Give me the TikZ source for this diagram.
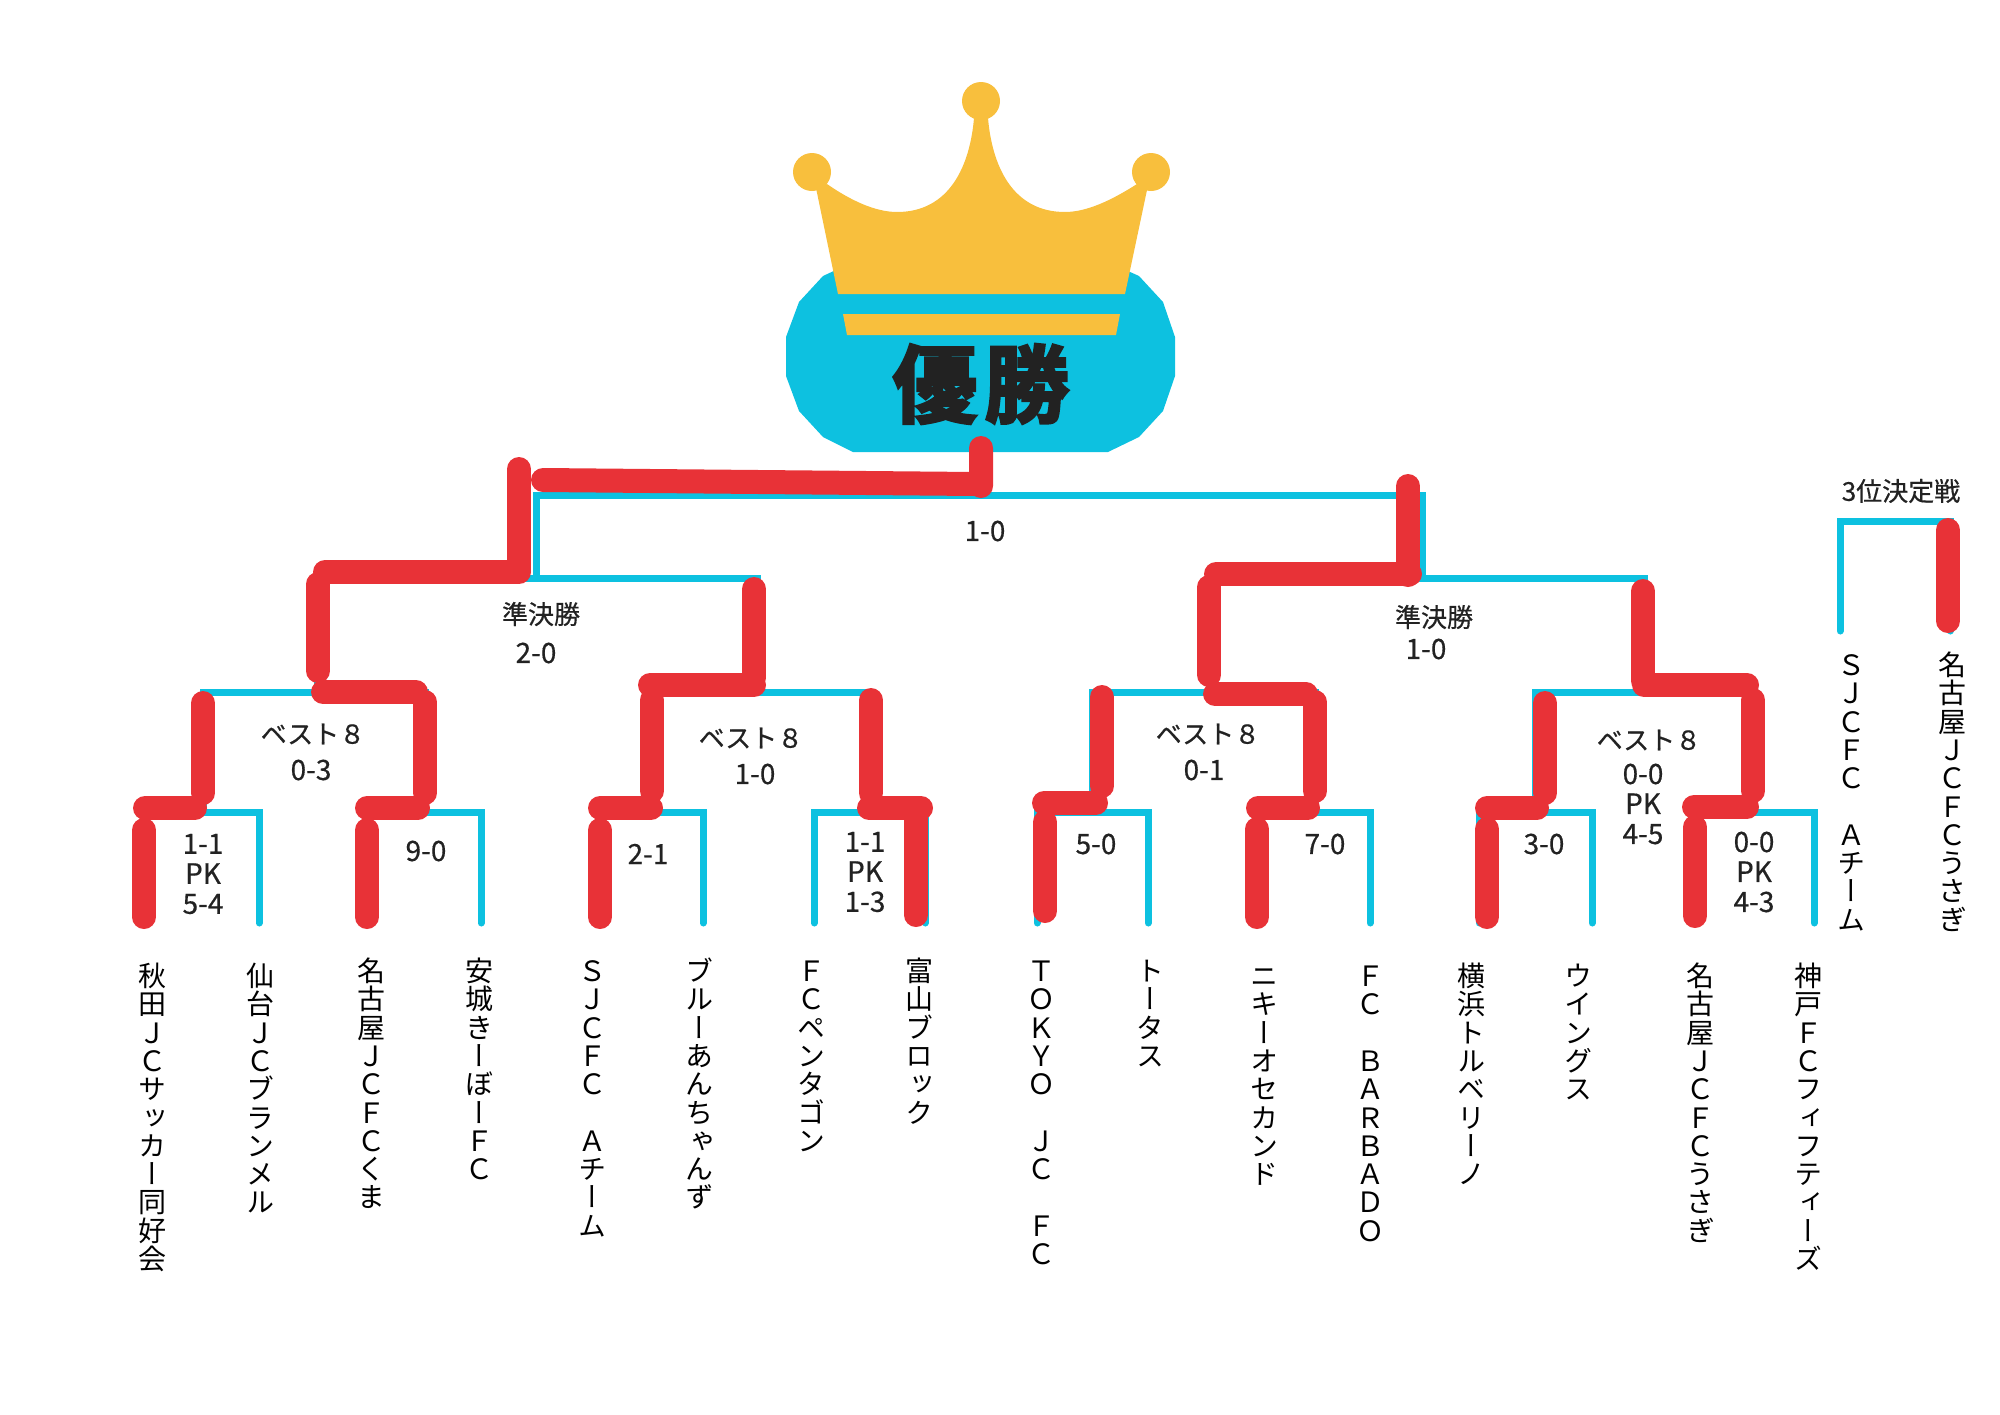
\documentclass[tikz,border=0pt]{standalone}
\usepackage{fontspec}
\setmainfont{Noto Sans CJK JP}
\newfontfamily\tatefont[RawFeature=+vert]{Noto Sans CJK JP}
\newfontfamily\labelfont[FakeBold=0.5]{Noto Sans CJK JP}
\newfontfamily\crownfont[FakeBold=3]{Noto Sans CJK JP Bold}
\definecolor{bracketblue}{HTML}{0DC1E0}
\definecolor{winred}{HTML}{E83237}
\definecolor{crowngold}{HTML}{F8BF3D}
\definecolor{inkdark}{HTML}{222222}
% one character under the other
\def\tateloop#1{\ifx#1\relax\else\hbox to 28.3pt{\hss\vrule height 24.3pt depth 4pt width 0pt #1\hss}\expandafter\tateloop\fi}
\newcommand{\tate}[1]{\vbox{\offinterlineskip\tateloop#1\relax}}
\tikzset{
  bracket/.style={draw=bracketblue,line width=7pt,line cap=round},
  winline/.style={draw=winred,line width=24pt,line cap=round},
  team/.style={anchor=north,inner sep=0pt,text=black,font=\tatefont\fontsize{28}{28}\selectfont},
  score/.style={inner sep=0pt,align=center,text=inkdark,font=\labelfont\fontsize{28}{30}\selectfont},
  stage/.style={inner sep=0pt,text=inkdark,font=\labelfont\fontsize{26}{30}\selectfont}
}
\begin{document}
\begin{tikzpicture}[x=1pt,y=-1pt]
  \useasboundingbox (0,0) rectangle (2000,1414);

  % crown
  \fill[bracketblue] (853,452) -- (823,437) -- (799,411) -- (786,376) -- (786,337) -- (799,302) -- (823,276) -- (853,262)
    -- (1108,262) -- (1139,276) -- (1163,302) -- (1175,337) -- (1175,376) -- (1163,411) -- (1139,437) -- (1108,452) -- cycle;
  \fill[crowngold] (838,294) -- (816,188) -- (827,184) .. controls (850,200) and (875,212) .. (897,212)
    .. controls (950,212) and (970,165) .. (974,118) -- (988,118) .. controls (992,165) and (1012,212) .. (1065,212)
    .. controls (1087,212) and (1112,200) .. (1137,184) -- (1147,190) -- (1125,294) -- cycle;
  \fill[crowngold] (981,101) circle[radius=19] (812,172) circle[radius=19] (1151,172) circle[radius=19];
  \fill[crowngold] (843,314) -- (1120,314) -- (1116,335) -- (847,335) -- cycle;
  \node[inner sep=0pt,text=inkdark,font=\crownfont\fontsize{85}{90}\selectfont] (champion) at (981,384) {優\kern7pt 勝};

  % leaves of the bracket
  \foreach \name/\xpos in {l1/144,l2/259,l3/367,l4/481,l5/600,l6/703,l7/814,l8/925,l9/1037,l10/1148,l11/1257,l12/1370,l13/1479,l14/1592,l15/1695,l16/1814}
    \coordinate (\name) at (\xpos,923);
  \coordinate (m1) at (203,812); \coordinate (m2) at (425,812);
  \coordinate (m3) at (652,812); \coordinate (m4) at (871,812);
  \coordinate (m5) at (1092,812); \coordinate (m6) at (1315,812);
  \coordinate (m7) at (1535,812); \coordinate (m8) at (1752,812);
  \coordinate (q1) at (317,692); \coordinate (q2) at (757,692);
  \coordinate (q3) at (1210,692); \coordinate (q4) at (1644,692);
  \coordinate (s1) at (536,578); \coordinate (s2) at (1422,578);
  \coordinate (fin) at (981,495);
  \coordinate (p1) at (1840,631); \coordinate (p2) at (1950,631); \coordinate (pm) at (1895,521);

  \draw[bracket] (l1) |- (m1) -| (l2) (l3) |- (m2) -| (l4) (l5) |- (m3) -| (l6) (l7) |- (m4) -| (l8);
  \draw[bracket] (l9) |- (m5) -| (l10) (l11) |- (m6) -| (l12) (l13) |- (m7) -| (l14) (l15) |- (m8) -| (l16);
  \draw[bracket] (m1) |- (q1) -| (m2) (m3) |- (q2) -| (m4) (m5) |- (q3) -| (m6) (m7) |- (q4) -| (m8);
  \draw[bracket] (q1) |- (s1) -| (q2) (q3) |- (s2) -| (q4);
  \draw[bracket] (s1) |- (fin) -| (s2);
  \draw[bracket] (p1) |- (pm) -| (p2);

  % winners, left half
  \draw[winline] (144,917) -- (144,830) (145,808) -- (195,808) (203,793) -- (203,703);
  \draw[winline] (367,917) -- (367,830) (367,808) -- (418,808) (425,793) -- (425,702) (416,692) -- (323,692);
  \draw[winline] (600,917) -- (600,830) (600,808) -- (651,808) (652,791) -- (652,700) (650,685) -- (754,685) (754,678) -- (754,589);
  \draw[winline] (916,915) -- (916,815) (921,808) -- (869,808) (871,793) -- (871,700);
  \draw[winline] (318,671) -- (318,584) (325,572) -- (519,572) (519,571) -- (519,469);
  \draw[winline] (543,480) -- (975,484) (981,486) -- (981,448);
  % winners, right half
  \draw[winline] (1045,911) -- (1045,822) (1044,803) -- (1096,803) (1102,786) -- (1102,697);
  \draw[winline] (1257,917) -- (1257,829) (1258,808) -- (1308,808) (1315,791) -- (1315,702) (1306,694) -- (1215,694);
  \draw[winline] (1487,917) -- (1487,829) (1487,808) -- (1537,808) (1545,793) -- (1545,703);
  \draw[winline] (1695,916) -- (1695,827) (1694,807) -- (1747,807) (1753,791) -- (1753,700) (1747,685) -- (1644,685) (1643,681) -- (1643,591);
  \draw[winline] (1209,675) -- (1209,587) (1216,574) -- (1410,574) (1408,575) -- (1408,486);
  \draw[winline] (1948,621) -- (1948,530);

  % scores
  \node[score] (final) at (985,531) {1-0};
  \node[stage] (semiL) at (541,614) {準決勝};
  \node[score] (semiLs) at (536,653) {2-0};
  \node[stage] (semiR) at (1434,617) {準決勝};
  \node[score] (semiRs) at (1426,649) {1-0};
  \node[stage] (bestA) at (313,734) {ベスト８};
  \node[score] (bestAs) at (311,770) {0-3};
  \node[stage] (bestB) at (751,738) {ベスト８};
  \node[score] (bestBs) at (755,774) {1-0};
  \node[stage] (bestC) at (1208,734) {ベスト８};
  \node[score] (bestCs) at (1204,770) {0-1};
  \node[stage] (bestD) at (1649,740) {ベスト８};
  \node[score] (bestDs) at (1643,804) {0-0\\PK\\4-5};
  \node[score] (roundA) at (203,874) {1-1\\PK\\5-4};
  \node[score] (roundB) at (426,851) {9-0};
  \node[score] (roundC) at (648,854) {2-1};
  \node[score] (roundD) at (865,872) {1-1\\PK\\1-3};
  \node[score] (roundE) at (1096,844) {5-0};
  \node[score] (roundF) at (1325,844) {7-0};
  \node[score] (roundG) at (1544,844) {3-0};
  \node[score] (roundH) at (1754,872) {0-0\\PK\\4-3};
  \node[stage] (third) at (1901,491) {3位決定戦};

  % team names
  \node[team] (t1) at (152,962) {\tate{秋田ＪＣサッカー同好会}};
  \node[team] (t2) at (260,962) {\tate{仙台ＪＣブランメル}};
  \node[team] (t3) at (371,957) {\tate{名古屋ＪＣＦＣくま}};
  \node[team] (t4) at (479,957) {\tate{安城きーぼーＦＣ}};
  \node[team] (t5) at (592,957) {\tate{ＳＪＣＦＣ　Ａチーム}};
  \node[team] (t6) at (699,957) {\tate{ブルーあんちゃんず}};
  \node[team] (t7) at (811,957) {\tate{ＦＣペンタゴン}};
  \node[team] (t8) at (919,957) {\tate{富山ブロック}};
  \node[team] (t9) at (1041,957) {\tate{ＴＯＫＹＯ　ＪＣ　ＦＣ}};
  \node[team] (t10) at (1150,957) {\tate{トータス}};
  \node[team] (t11) at (1264,962) {\tate{ニキーオセカンド}};
  \node[team] (t12) at (1370,962) {\tate{ＦＣ　ＢＡＲＢＡＤＯ}};
  \node[team] (t13) at (1471,962) {\tate{横浜トルベリーノ}};
  \node[team] (t14) at (1578,962) {\tate{ウイングス}};
  \node[team] (t15) at (1700,962) {\tate{名古屋ＪＣＦＣうさぎ}};
  \node[team] (t16) at (1808,962) {\tate{神戸ＦＣフィフティーズ}};
  \node[team] (t17) at (1851,651) {\tate{ＳＪＣＦＣ　Ａチーム}};
  \node[team] (t18) at (1952,651) {\tate{名古屋ＪＣＦＣうさぎ}};
\end{tikzpicture}
\end{document}
